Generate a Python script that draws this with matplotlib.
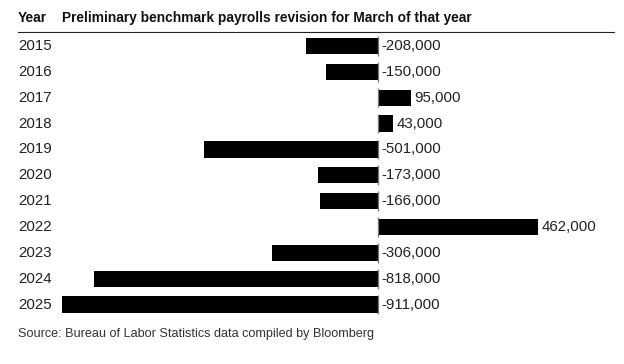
import matplotlib
matplotlib.use("Agg")
import matplotlib.pyplot as plt
from matplotlib.transforms import blended_transform_factory, offset_copy
from matplotlib.lines import Line2D

years = ["2015", "2016", "2017", "2018", "2019", "2020", "2021", "2022", "2023", "2024", "2025"]
revisions = [-208000, -150000, 95000, 43000, -501000, -173000, -166000, 462000, -306000, -818000, -911000]
value_labels = ["-208,000", "-150,000", "95,000", "43,000", "-501,000", "-173,000",
                "-166,000", "462,000", "-306,000", "-818,000", "-911,000"]
header_year = "Year"
header_title = "Preliminary benchmark payrolls revision for March of that year"
source = "Source: Bureau of Labor Statistics data compiled by Bloomberg"

plt.rcParams['font.family'] = ['Liberation Sans', 'DejaVu Sans']

W, H = 624, 364
fig = plt.figure(figsize=(W / 100, H / 100), dpi=100)
fig.patch.set_facecolor("white")

def fx(px):
    return px / W

def fy(py):
    return 1 - py / H

top_px, bot_px = 33.0, 317.5
ax = fig.add_axes([fx(62), fy(bot_px), fx(600) - fx(62), (bot_px - top_px) / H])
ax.set_xlim(-911000, 640000)
n = len(years)
ax.set_ylim(n - 0.5, -0.5)
ax.axis("off")

ypos = list(range(n))
ax.barh(ypos, revisions, height=0.63, color="black", edgecolor="none")
ax.vlines([0] * n, [y - 0.38 for y in ypos], [y + 0.38 for y in ypos], color="#777777", lw=0.9)

for y, v, lab in zip(ypos, revisions, value_labels):
    if v < 0:
        tr = offset_copy(ax.transData, fig=fig, x=2.2, y=0, units="points")
        ax.text(0, y, lab, transform=tr, ha="left", va="center", fontsize=10.8, color="#222222")
    else:
        tr = offset_copy(ax.transData, fig=fig, x=2.5, y=0, units="points")
        ax.text(v, y, lab, transform=tr, ha="left", va="center", fontsize=10.8, color="#222222")

btr = blended_transform_factory(fig.transFigure, ax.transData)
for y, yr in zip(ypos, years):
    ax.text(fx(18), y, yr, transform=btr, ha="left", va="center", fontsize=10.8, color="#222222")

fig.text(fx(18), fy(18), header_year, ha="left", va="center", fontsize=9.9, fontweight="bold", color="#111111")
fig.text(fx(62), fy(18), header_title, ha="left", va="center", fontsize=9.9, fontweight="bold", color="#111111")
fig.add_artist(Line2D([fx(18), fx(614)], [fy(32), fy(32)], color="#222222", lw=0.8))

fig.text(fx(18), fy(334), source, ha="left", va="center", fontsize=9.1, color="#333333")

fig.savefig("out.png", dpi=100, facecolor="white")
